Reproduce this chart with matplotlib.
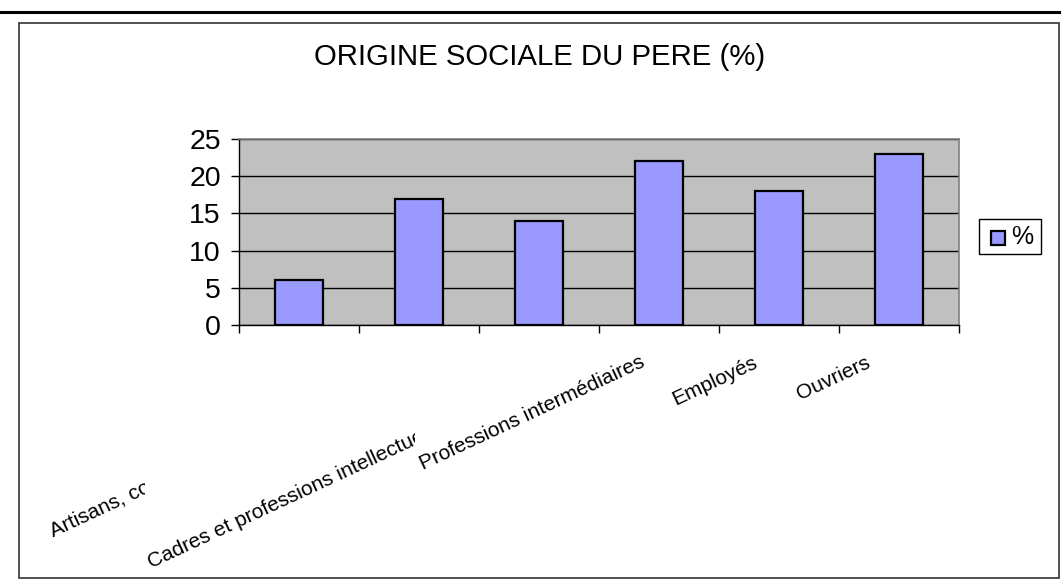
import matplotlib.pyplot as plt
import matplotlib.transforms as mtransforms
from matplotlib.patches import Rectangle
from matplotlib.lines import Line2D
import numpy as np

plt.rcParams['font.family'] = ['Liberation Sans', 'DejaVu Sans']

# data
categories = ["",
              "Artisans, commerçants et chefs d'entreprise",
              "Cadres et professions intellectuelles supérieures",
              "Professions intermédiaires",
              "Employés",
              "Ouvriers"]
values = [6, 17, 14, 22, 18, 23]
series_name = "%"
title = "ORIGINE SOCIALE DU PERE (%)"

W, H = 1061, 583
fig = plt.figure(figsize=(W / 100, H / 100), dpi=100)
fig.patch.set_facecolor('white')

# outer chart frame (Excel style)
fig.add_artist(Line2D([0, 1], [1 - 12 / H, 1 - 12 / H], color='black', lw=2.2,
                      transform=fig.transFigure))
fig.add_artist(Rectangle((19 / W, 5 / H), (1059 - 19) / W, (560 - 5) / H,
                         fill=False, edgecolor='#333333', lw=1.2,
                         transform=fig.transFigure))

ax = fig.add_axes([239 / W, 1 - 325 / H, 720 / W, 186 / H])
ax.set_facecolor('#C0C0C0')

x = np.arange(len(values))
ax.bar(x, values, width=0.4, color='#9999FF', edgecolor='black', linewidth=1.6,
       zorder=3, label=series_name)

ax.set_xlim(-0.5, len(values) - 0.5)
ax.set_ylim(0, 25)
ax.set_yticks(np.arange(0, 26, 5))
ax.yaxis.grid(True, color='black', lw=1.0, zorder=1)
ax.set_axisbelow(True)

for s in ['top', 'right']:
    ax.spines[s].set_color('#808080')
    ax.spines[s].set_linewidth(1.2)
for s in ['left', 'bottom']:
    ax.spines[s].set_color('black')
    ax.spines[s].set_linewidth(1.0)

ax.tick_params(axis='y', direction='out', length=6, width=1, pad=7,
               labelsize=20.5)
# category boundary ticks on x axis
ax.set_xticks(np.arange(-0.5, len(values), 1.0))
ax.set_xticklabels([])
ax.tick_params(axis='x', direction='out', length=6, width=1)

# rotated category labels, Excel shifts them a little to the left
trans = mtransforms.blended_transform_factory(ax.transData, ax.transAxes)
clip_right = [None, -1.28, 0.97, None, None, None]
slide = [0, 0, 20, 0, 0, 0]   # shift along the text line, points
ang = 25
for i, lab in enumerate(categories):
    if not lab:
        continue
    tr = mtransforms.offset_copy(trans, fig=fig, units='points',
                                 x=slide[i] * np.cos(np.radians(ang)),
                                 y=-slide[i] * np.sin(np.radians(ang)))
    t = ax.text(i * 0.94 + 0.02, -0.15, lab, rotation=ang,
                rotation_mode='anchor', ha='right', va='top', fontsize=15,
                transform=tr, clip_on=False)
    if clip_right[i] is not None:
        xr = ax.transData.transform((clip_right[i], 0))[0]
        bb = mtransforms.Bbox.from_extents(0, 0, xr, H)
        t.set_clip_box(bb)
        t.set_clip_on(True)

fig.text(540 / W, 1 - 57 / H, title, ha='center', va='center', fontsize=21.2)

# legend box
fig.add_artist(Rectangle((979 / W, 1 - 254 / H), 62 / W, 35 / H, fill=True,
                         facecolor='white', edgecolor='black', lw=1.0,
                         transform=fig.transFigure))
fig.add_artist(Rectangle((991 / W, 1 - 245 / H), 14 / W, 14 / H,
                         facecolor='#9999FF', edgecolor='black', lw=1.6,
                         transform=fig.transFigure))
fig.text(1011 / W, 1 - 237 / H, series_name, ha='left', va='center',
         fontsize=18)

fig.savefig('out.png', dpi=100)
